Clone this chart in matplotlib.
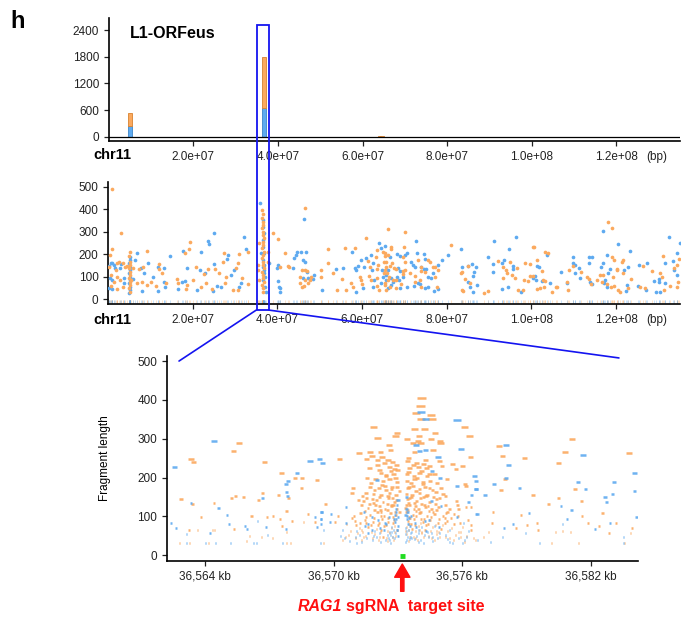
import matplotlib
matplotlib.use("Agg")
import matplotlib.pyplot as plt
from matplotlib.patches import Rectangle, ConnectionPatch
from matplotlib.ticker import FixedLocator, FixedFormatter

plt.rcParams['font.family'] = ['Liberation Sans', 'DejaVu Sans']

BLUE = '#5eaaf0'
ORANGE = '#fba95e'
BOX = '#1414f0'

# ---- panel 1: fragment counts per bin on chr11 (bin centre in bp)
bar_pos = [5.0e6, 36.7e6, 64.0e6, 64.6e6]
bar_blue = [250, 650, 8, 6]
bar_orange = [290, 1150, 12, 8]

# ---- panel 2: fragments along chr11, (position in Mb, fragment length)
mid_blue = [
    (0.63, 162), (0.95, 159), (0.24, 147), (1.4, 152), (1.6, 137), (2.8, 137), (3.0, 156), (0.47, 92),
    (0.79, 85), (3.8, 92), (3.8, 70), (0.24, 48), (0.79, 43), (5.05, 186), (5.1, 174), (5.0, 159),
    (5.05, 144), (5.1, 129), (5.0, 115), (5.05, 100), (5.1, 85), (5.0, 70), (5.05, 55), (5.1, 40),
    (5.0, 28), (5.8, 91), (6.4, 173), (6.9, 204), (7.7, 137), (8.5, 115), (8.0, 36), (9.3, 159),
    (10.5, 100), (11.7, 36), (11.8, 141), (13.1, 138), (13.3, 77), (13.4, 55), (14.5, 190), (16.6, 43),
    (17.4, 77), (18.1, 79), (17.6, 214), (18.6, 137), (21.1, 40), (21.9, 211), (21.8, 129), (22.9, 118),
    (23.5, 260), (23.9, 245), (24.9, 293), (24.7, 34), (25.1, 155), (25.7, 58), (26.7, 55), (28.1, 179),
    (28.2, 198), (28.9, 107), (29.8, 129), (30.9, 55), (31.4, 70), (32.2, 278), (32.5, 225),
    (35.9, 430), (36.0, 207), (36.5, 353), (36.6, 323), (36.7, 293), (36.6, 263), (36.5, 234), (36.7, 204),
    (36.5, 174), (36.8, 152), (36.6, 144), (36.9, 129), (36.7, 115), (37.0, 100), (36.6, 85), (37.1, 55),
    (37.2, 33), (38.1, 159), (40.1, 152), (39.8, 137), (40.1, 82), (40.3, 52), (40.6, 48), (40.5, 33),
    (43.6, 137), (43.8, 185), (44.7, 211), (45.6, 211), (46.8, 211), (44.4, 196), (46.0, 174), (46.4, 167),
    (46.0, 92), (47.2, 95), (48.4, 88), (48.6, 107), (47.0, 122), (46.2, 357), (50.5, 40), (53.9, 132),
    (55.5, 140), (57.7, 211), (58.2, 137), (58.6, 129), (59.1, 147), (58.5, 33), (59.8, 174), (60.4, 141),
    (60.8, 182), (60.2, 48), (62.0, 196), (62.6, 159), (62.4, 129), (62.9, 85), (62.6, 55), (64.0, 248),
    (64.5, 226), (64.7, 129), (64.9, 100), (64.4, 70),
    (65.33, 237), (66.51, 189), (66.12, 129), (65.72, 107), (66.75, 92), (65.57, 85), (66.91, 62), (66.12, 48),
    (67.3, 77), (68.33, 201), (68.88, 192), (70.06, 196), (70.7, 207), (68.49, 137), (68.88, 126), (68.33, 100),
    (68.72, 85), (69.75, 100), (70.62, 55), (68.88, 48), (71.48, 167), (72.04, 152), (72.43, 141), (73.06, 207),
    (74.01, 141), (74.64, 201), (74.8, 177), (74.64, 135), (75.19, 132), (75.59, 100), (76.22, 95), (76.77, 115),
    (77.95, 152), (78.9, 174), (80.32, 195), (73.22, 70), (72.27, 58), (73.61, 67), (74.96, 48), (75.59, 55),
    (77.01, 37), (77.95, 43), (72.8, 259), (83.3, 223), (91.2, 259), (96.3, 278),
    (83.48, 141), (85.06, 147), (86.0, 156), (86.48, 122), (86.79, 144), (86.24, 103), (85.06, 77), (87.03, 62),
    (85.45, 55), (86.24, 33), (89.63, 189), (90.97, 156), (90.97, 122), (92.95, 159), (93.58, 174), (94.52, 55),
    (92.95, 45), (95.71, 147), (95.71, 132), (94.76, 223), (97.52, 33), (100.44, 92),
    (116.9, 304), (132.4, 277), (135.0, 250), (120.4, 244), (123.3, 216), (103.6, 198), (134.4, 204), (117.8, 198),
    (109.7, 187), (113.5, 187), (114.2, 187), (109.7, 159), (110.3, 152), (113.5, 159), (116.9, 162), (116.4, 141),
    (118.6, 132), (133.4, 171), (131.6, 159), (125.3, 152), (127.3, 162), (122.9, 141), (121.9, 129),
    (100.83, 103), (101.39, 147), (101.78, 144), (100.99, 85), (102.41, 82), (104.38, 73), (106.91, 121),
    (108.33, 73), (110.3, 115), (111.33, 137), (111.49, 95), (113.85, 77), (114.25, 67), (118.19, 118),
    (117.4, 85), (117.17, 70), (117.95, 55), (122.53, 62), (122.37, 36), (125.06, 58), (127.11, 40), (129.0, 82),
    (130.03, 88), (129.47, 33), (130.42, 33), (130.03, 77), (131.6, 73), (133.73, 129), (134.37, 106),
]
mid_orange = [
    (0.87, 491), (3.0, 296), (0.79, 225), (0.47, 198), (0.1, 141), (2.6, 167), (2.2, 162), (3.4, 159),
    (3.9, 141), (4.4, 149), (1.8, 129), (0.63, 107), (2.05, 100), (1.4, 77), (2.8, 85), (3.4, 55),
    (0.63, 58), (2.2, 43), (5.05, 208), (5.0, 193), (5.1, 167), (5.05, 152), (5.0, 137), (5.1, 122),
    (5.05, 107), (5.0, 92), (5.1, 77), (5.05, 62), (5.0, 48), (5.1, 33), (5.5, 85), (5.8, 137),
    (6.7, 70), (7.3, 132), (8.3, 144), (8.1, 76), (9.1, 214), (9.2, 61), (10.1, 77), (11.3, 58),
    (12.1, 156), (12.1, 132), (12.6, 118), (13.7, 70), (16.3, 91), (16.6, 70), (18.1, 205), (19.0, 223),
    (19.3, 256), (18.4, 43), (18.6, 62), (20.0, 85), (20.8, 144), (21.9, 55), (22.7, 112), (23.5, 132),
    (23.0, 70), (24.5, 43), (25.3, 134), (26.3, 115), (27.3, 207), (27.1, 165), (27.9, 100), (27.6, 70),
    (29.4, 40), (30.2, 137), (30.6, 162), (30.6, 40), (30.9, 201), (31.6, 95), (33.0, 211), (33.1, 67),
    (36.3, 397), (36.5, 379), (36.4, 360), (36.6, 345), (36.5, 330), (36.4, 315), (36.6, 300), (36.5, 286),
    (36.7, 271), (36.5, 256), (36.6, 241), (36.4, 226), (36.7, 211), (36.5, 196), (36.3, 181), (36.6, 167),
    (36.5, 152), (36.7, 137), (36.4, 122), (36.6, 107), (36.5, 92), (36.8, 77), (36.4, 62), (36.6, 48),
    (36.5, 33), (35.7, 251), (35.5, 152), (35.3, 129), (35.7, 85), (37.7, 211), (37.87, 167), (38.9, 293),
    (40.1, 266), (40.7, 144), (41.8, 204), (42.6, 147), (42.8, 141), (45.8, 129), (46.4, 129), (46.9, 126),
    (45.4, 97), (46.5, 85), (45.2, 70), (45.8, 52), (46.2, 58), (47.2, 73), (47.6, 85), (48.0, 100),
    (46.6, 405), (50.3, 129), (50.2, 100), (51.9, 222), (51.9, 162), (53.1, 115), (54.1, 40), (55.3, 89),
    (55.9, 226), (56.3, 40), (57.4, 70), (57.8, 55), (58.4, 226), (59.4, 100), (59.7, 85), (60.0, 67),
    (60.8, 271), (61.4, 171), (61.8, 141), (61.6, 103), (62.0, 85), (63.2, 186), (63.4, 219), (63.8, 152),
    (63.6, 132), (63.4, 92), (63.6, 58), (63.9, 40), (64.9, 211), (65.3, 192), (65.2, 167), (65.7, 144),
    (65.2, 115), (66.0, 85), (65.3, 62), (66.1, 311),
    (66.75, 231), (66.91, 222), (65.33, 207), (66.12, 196), (65.72, 167), (66.51, 147), (67.07, 159), (67.54, 137),
    (65.33, 129), (65.96, 115), (66.28, 100), (67.3, 85), (65.33, 70), (66.51, 55), (65.72, 40), (69.9, 234),
    (69.67, 186), (70.06, 165), (68.09, 132), (69.67, 126), (70.22, 129), (69.67, 112), (67.93, 85), (69.28, 67),
    (68.09, 48), (71.25, 118), (72.43, 103), (73.22, 174), (74.01, 144), (73.85, 126), (74.8, 122), (75.59, 174),
    (75.98, 167), (76.77, 141), (77.17, 144), (77.95, 129), (77.17, 100), (77.8, 55), (73.61, 85), (72.43, 77),
    (74.01, 55), (70.1, 298), (81.1, 240), (100.4, 234),
    (83.32, 115), (83.63, 122), (84.27, 88), (84.9, 147), (85.45, 70), (83.48, 40), (83.87, 37), (88.84, 28),
    (89.63, 37), (92.16, 171), (93.34, 141), (93.89, 129), (94.92, 167), (94.13, 115), (95.31, 107), (93.34, 95),
    (96.1, 92), (96.5, 137), (98.47, 159), (99.65, 156), (98.31, 85), (99.26, 82), (96.89, 40), (98.07, 40),
    (100.44, 103),
    (118.0, 342), (119.1, 315), (100.6, 231), (103.2, 211), (104.0, 207), (131.1, 190), (119.0, 186), (119.4, 174),
    (101.4, 174), (109.9, 147), (121.3, 167), (121.7, 174), (120.3, 132), (126.32, 147), (128.45, 126),
    (133.58, 140), (134.37, 152), (134.76, 177), (102.41, 126), (99.65, 103), (102.81, 85), (103.2, 80),
    (101.23, 45), (102.02, 48), (102.96, 55), (104.78, 33), (105.8, 52), (106.12, 52), (108.33, 74),
    (108.96, 129), (108.57, 40), (111.72, 122), (113.06, 97), (113.69, 88), (114.09, 65), (115.43, 85),
    (116.22, 107), (116.61, 77), (116.85, 107), (117.95, 67), (119.22, 97), (119.53, 58), (118.74, 52),
    (120.32, 129), (120.56, 40), (120.95, 33), (121.74, 115), (122.77, 48), (123.56, 88), (125.69, 55),
    (126.87, 48), (130.26, 115), (130.82, 97), (131.37, 40), (132.63, 58), (134.6, 77), (134.37, 55),
]

# ---- panel 3: fragments around RAG1 target, (centre in kb, fragment length)
zoom_blue = [
    (36562.57, 228), (36564.42, 295), (36568.9, 242), (36569.35, 247), (36569.46, 237), (36568.3, 211),
    (36567.88, 191), (36567.78, 184), (36567.8, 162), (36567.85, 153), (36566.68, 148), (36563.35, 135),
    (36564.62, 121), (36565.04, 104), (36566.45, 88), (36569.12, 99), (36569.43, 111), (36569.43, 94),
    (36569.4, 81), (36569.21, 73), (36567.77, 67), (36562.42, 83), (36562.65, 70), (36563.12, 55),
    (36564.23, 57), (36565.12, 80), (36565.86, 76), (36565.95, 67), (36566.84, 72), (36566.92, 52),
    (36563.15, 32), (36564.03, 32), (36564.48, 32), (36565.18, 32), (36566.26, 32), (36566.39, 32),
    (36567.61, 32), (36568.47, 32), (36568.81, 32), (36569.4, 32),
    (36574.09, 369), (36574.28, 351), (36575.74, 349), (36573.85, 284), (36575.94, 273), (36574.0, 269),
    (36574.28, 271), (36574.87, 252), (36574.58, 218), (36576.57, 205), (36572.01, 193), (36574.95, 198),
    (36576.65, 191), (36575.74, 179), (36576.63, 170), (36576.43, 155), (36574.54, 140), (36575.0, 127),
    (36570.57, 124), (36571.42, 112), (36576.63, 107), (36569.43, 111), (36569.88, 106), (36571.78, 99),
    (36572.92, 92), (36574.43, 90), (36575.74, 99), (36569.41, 93), (36569.81, 86), (36570.56, 82),
    (36571.6, 80), (36572.45, 80), (36573.85, 73), (36574.7, 75), (36576.05, 82), (36569.53, 66),
    (36570.4, 66), (36571.05, 63), (36571.78, 64), (36572.59, 60), (36572.98, 64), (36573.64, 60),
    (36574.38, 60), (36575.4, 64), (36576.29, 63),
    (36572.95, 128), (36572.9, 112), (36573.0, 98), (36572.85, 86), (36573.0, 76), (36572.95, 66),
    (36572.9, 58), (36573.0, 50), (36572.85, 44), (36573.0, 38), (36572.95, 34), (36573.4, 120),
    (36573.35, 104), (36573.4, 92), (36573.45, 80), (36573.35, 70), (36573.4, 62), (36573.35, 54),
    (36573.45, 46), (36573.4, 40), (36573.35, 34), (36572.7, 60), (36572.75, 46), (36572.6, 38),
    (36572.5, 52), (36572.3, 42), (36572.2, 34), (36572.0, 48), (36571.8, 38), (36571.55, 44),
    (36571.3, 34), (36571.0, 46), (36570.75, 36), (36570.5, 44), (36573.6, 56), (36573.55, 42),
    (36573.7, 36), (36573.85, 50), (36574.05, 40), (36574.2, 32), (36574.4, 46), (36574.6, 36),
    (36574.85, 44), (36575.05, 34), (36575.3, 42), (36575.55, 32), (36575.8, 44), (36576.1, 38),
    (36576.4, 32), (36572.4, 84), (36572.15, 70), (36571.9, 62), (36573.8, 84), (36574.1, 72),
    (36574.3, 62), (36574.55, 56), (36572.6, 98), (36573.6, 100),
    (36572.9, 120), (36573.45, 112), (36572.85, 104), (36573.4, 100), (36572.8, 94), (36573.5, 96),
    (36572.7, 72), (36573.55, 76), (36572.8, 66), (36573.5, 66), (36572.65, 52), (36573.6, 48),
    (36572.55, 44), (36573.65, 44), (36572.4, 40), (36573.75, 42), (36572.15, 56), (36573.95, 58),
    (36571.85, 50), (36574.25, 52), (36571.6, 56), (36574.6, 48), (36571.2, 52), (36574.95, 56),
    (36570.9, 40), (36575.2, 52), (36570.3, 50), (36575.7, 38), (36576.2, 46), (36576.7, 40),
    (36572.35, 66), (36573.95, 66), (36572.05, 90), (36574.25, 88), (36571.45, 76), (36574.9, 72),
    (36573.0, 142), (36573.4, 150), (36570.2, 34), (36571.05, 32), (36572.65, 32), (36573.95, 34),
    (36575.4, 34), (36576.0, 32), (36577.3, 34),
    (36578.02, 283), (36578.15, 231), (36581.63, 258), (36578.02, 200), (36576.63, 170), (36577.46, 182),
    (36578.67, 174), (36577.05, 154), (36581.38, 189), (36581.74, 170), (36583.05, 189), (36584.02, 211),
    (36584.02, 166), (36583.0, 157), (36580.6, 127), (36582.65, 149), (36582.71, 137), (36576.71, 107),
    (36576.28, 137), (36579.12, 109), (36581.1, 116), (36584.12, 99), (36580.86, 92), (36582.9, 82),
    (36578.95, 56), (36580.67, 80), (36582.19, 67), (36583.53, 46), (36578.37, 79), (36577.95, 69),
    (36577.87, 47), (36578.45, 32), (36578.73, 32), (36579.61, 32), (36582.05, 32), (36583.52, 32),
]
zoom_orange = [
    (36563.35, 247), (36563.46, 240), (36565.6, 290), (36565.33, 269), (36566.79, 239), (36567.57, 211),
    (36568.19, 200), (36568.53, 199), (36568.5, 173), (36569.24, 193), (36567.9, 147), (36567.44, 155),
    (36566.68, 159), (36566.48, 142), (36565.78, 151), (36565.42, 152), (36565.24, 147), (36564.42, 134),
    (36563.41, 131), (36562.88, 145), (36563.81, 99), (36566.17, 100), (36566.88, 99), (36567.16, 100),
    (36567.49, 94), (36567.81, 113), (36568.05, 88), (36568.59, 86), (36568.81, 107), (36569.12, 86),
    (36567.6, 75), (36567.8, 59), (36563.26, 64), (36563.66, 64), (36564.34, 64), (36564.43, 64),
    (36565.35, 68), (36566.64, 46), (36566.06, 50), (36567.15, 45), (36565.94, 37),
    (36562.8, 32), (36563.27, 32), (36564.15, 32), (36565.86, 32), (36566.14, 32), (36567.81, 32),
    (36568.0, 32), (36568.99, 32), (36569.52, 32),
    (36574.1, 404), (36574.05, 385), (36573.85, 367), (36574.54, 361), (36574.58, 350), (36574.08, 351),
    (36576.12, 331), (36571.86, 331), (36573.77, 324), (36574.23, 326), (36574.73, 314), (36572.95, 314),
    (36572.88, 306), (36572.04, 303), (36573.98, 306), (36576.33, 307), (36573.41, 298), (36574.54, 300),
    (36574.95, 295), (36574.98, 289), (36573.92, 293), (36573.69, 289), (36574.05, 289), (36572.6, 284),
    (36572.65, 271), (36574.62, 271), (36571.19, 263), (36571.71, 266), (36572.19, 265), (36573.77, 265),
    (36571.79, 255), (36572.26, 252), (36576.37, 253), (36570.26, 248), (36571.52, 248), (36573.5, 249),
    (36574.28, 245), (36574.93, 243), (36572.53, 244), (36572.76, 240), (36573.85, 238), (36575.54, 235),
    (36572.06, 233), (36572.95, 232), (36575.05, 230), (36576.01, 230), (36571.67, 225), (36573.53, 225),
    (36574.34, 225), (36575.7, 221), (36572.14, 219), (36572.68, 217), (36572.99, 219), (36574.0, 212),
    (36574.47, 209), (36573.41, 208), (36571.56, 200), (36572.45, 204), (36572.88, 198), (36575.3, 197),
    (36573.77, 196), (36574.15, 189), (36571.75, 185), (36572.26, 180), (36576.17, 179), (36572.73, 176),
    (36573.5, 176), (36574.47, 174), (36570.9, 174), (36571.91, 168), (36572.45, 168), (36573.07, 166),
    (36573.85, 166), (36574.78, 163), (36570.86, 161), (36571.33, 153), (36575.21, 152), (36572.53, 152),
    (36573.62, 150), (36574.2, 150), (36571.16, 142), (36572.01, 142), (36572.92, 142), (36573.85, 140),
    (36575.74, 140), (36569.61, 131), (36571.67, 131), (36572.68, 129), (36573.41, 129), (36574.28, 124),
    (36576.17, 123), (36572.19, 116), (36573.07, 112), (36573.85, 114), (36574.62, 112), (36575.24, 109),
    (36570.19, 101), (36570.86, 96), (36572.53, 95), (36573.53, 99), (36574.08, 94), (36574.93, 92),
    (36575.47, 95), (36576.25, 90), (36570.05, 86), (36571.21, 83), (36572.06, 77), (36572.84, 75),
    (36573.62, 80), (36574.31, 77), (36575.08, 77), (36576.4, 77), (36571.36, 60), (36572.17, 60),
    (36573.36, 62), (36574.0, 64), (36574.78, 63), (36575.83, 60),
    (36572.05, 245), (36572.35, 238), (36572.6, 228), (36572.85, 222), (36573.45, 242), (36573.7, 232),
    (36573.95, 228), (36574.2, 236), (36574.45, 230), (36572.2, 212), (36572.45, 206), (36572.8, 210),
    (36573.5, 214), (36573.75, 205), (36574.1, 218), (36574.35, 203), (36574.7, 210), (36571.95, 196),
    (36572.3, 190), (36572.6, 195), (36572.95, 188), (36573.4, 192), (36573.6, 186), (36573.9, 198),
    (36574.15, 182), (36574.5, 192), (36574.8, 186), (36571.7, 176), (36572.1, 172), (36572.4, 178),
    (36572.7, 170), (36572.95, 175), (36573.45, 172), (36573.7, 178), (36574.0, 170), (36574.25, 176),
    (36574.6, 168), (36575.0, 172), (36571.5, 160), (36571.85, 158), (36572.2, 156), (36572.6, 160),
    (36572.9, 154), (36573.4, 158), (36573.65, 155), (36574.0, 160), (36574.35, 156), (36574.65, 150),
    (36575.1, 158), (36571.4, 140), (36571.8, 145), (36572.3, 138), (36572.55, 146), (36572.85, 136),
    (36573.45, 144), (36573.75, 135), (36574.05, 146), (36574.45, 138), (36574.8, 144), (36571.6, 122),
    (36571.95, 128), (36572.4, 120), (36572.7, 126), (36572.95, 118), (36573.35, 122), (36573.55, 128),
    (36573.95, 120), (36574.25, 128), (36574.55, 118), (36574.9, 124), (36575.4, 120), (36571.25, 108),
    (36571.7, 104), (36572.05, 110), (36572.35, 102), (36572.65, 108), (36572.9, 104), (36573.4, 110),
    (36573.7, 104), (36574.0, 108), (36574.35, 100), (36574.7, 106), (36575.1, 102), (36575.6, 106),
    (36571.0, 88), (36571.45, 90), (36571.85, 86), (36572.25, 92), (36572.55, 86), (36572.8, 90),
    (36573.45, 88), (36573.75, 92), (36574.15, 86), (36574.5, 90), (36574.85, 84), (36575.3, 88),
    (36575.9, 84), (36571.2, 70), (36571.6, 72), (36572.0, 68), (36572.35, 74), (36572.7, 70),
    (36572.95, 66), (36573.4, 72), (36573.65, 68), (36573.95, 74), (36574.25, 66), (36574.6, 72),
    (36575.0, 68), (36575.5, 70), (36576.0, 72), (36570.7, 52), (36571.1, 56), (36571.5, 50),
    (36571.9, 54), (36572.3, 48), (36572.6, 56), (36572.9, 50), (36573.4, 54), (36573.7, 48),
    (36574.1, 56), (36574.4, 50), (36574.8, 54), (36575.2, 48), (36575.7, 52), (36576.2, 50),
    (36570.4, 38), (36570.9, 36), (36571.3, 40), (36571.7, 34), (36572.1, 38), (36572.5, 36),
    (36572.8, 40), (36573.5, 36), (36573.9, 40), (36574.3, 34), (36574.7, 38), (36575.1, 36),
    (36575.6, 40), (36576.1, 34), (36576.6, 38),
    (36571.55, 146), (36572.15, 150), (36572.75, 148), (36573.55, 146), (36574.3, 152), (36574.95, 148),
    (36571.3, 130), (36571.85, 134), (36572.15, 126), (36572.5, 132), (36572.8, 128), (36573.5, 134),
    (36573.8, 126), (36574.1, 132), (36574.4, 126), (36574.75, 132), (36575.2, 130), (36571.45, 114),
    (36571.9, 116), (36572.2, 112), (36572.5, 116), (36572.85, 112), (36573.45, 116), (36573.75, 118),
    (36574.05, 112), (36574.45, 114), (36574.8, 116), (36575.3, 112), (36570.95, 100), (36571.5, 98),
    (36571.9, 96), (36572.2, 100), (36572.75, 98), (36573.55, 96), (36573.85, 100), (36574.2, 94),
    (36574.55, 98), (36575.2, 96), (36575.8, 100), (36570.6, 80), (36571.05, 78), (36571.5, 82),
    (36571.75, 78), (36572.1, 84), (36572.45, 78), (36572.75, 82), (36573.5, 80), (36573.8, 78),
    (36574.05, 82), (36574.4, 80), (36574.75, 78), (36575.2, 82), (36575.6, 80), (36570.8, 62),
    (36571.3, 64), (36571.75, 60), (36572.2, 64), (36572.5, 62), (36572.85, 60), (36573.5, 64),
    (36573.8, 62), (36574.1, 60), (36574.5, 62), (36574.9, 60), (36575.3, 62), (36575.9, 60),
    (36576.4, 64), (36570.55, 46), (36571.0, 44), (36571.4, 46), (36571.8, 44), (36572.15, 46),
    (36572.45, 44), (36572.75, 46), (36573.55, 46), (36573.8, 44), (36574.2, 46), (36574.55, 44),
    (36574.95, 46), (36575.4, 44), (36575.9, 46), (36576.5, 44),
    (36577.69, 281), (36577.87, 255), (36578.9, 250), (36581.1, 300), (36580.79, 265), (36580.5, 237),
    (36583.77, 264), (36576.14, 183), (36577.99, 197), (36579.3, 155), (36577.8, 167), (36581.26, 171),
    (36580.49, 147), (36581.54, 140), (36580.02, 133), (36577.44, 111), (36575.79, 129), (36575.83, 120),
    (36576.4, 124), (36578.74, 103), (36579.47, 84), (36582.53, 109), (36581.56, 101), (36581.86, 83),
    (36582.37, 76), (36583.18, 82), (36579.02, 78), (36579.53, 66), (36580.35, 60), (36580.67, 63),
    (36581.05, 60), (36582.84, 56), (36583.83, 57), (36583.92, 69), (36578.5, 69), (36577.37, 83),
    (36577.22, 60), (36577.0, 47), (36580.15, 32), (36581.43, 32), (36583.57, 32),
]

target_kb = 36573.2
zoom_ticks = [36564, 36570, 36576, 36582]

fig = plt.figure(figsize=(6.89, 6.20), dpi=100)
ax1 = fig.add_axes([0.158, 0.7726, 0.829, 0.1984])
ax2 = fig.add_axes([0.157, 0.5097, 0.830, 0.1968])
ax3 = fig.add_axes([0.2424, 0.0952, 0.6836, 0.3306])

for ax in (ax1, ax2, ax3):
    for s in ('top', 'right'):
        ax.spines[s].set_visible(False)
    for s in ('left', 'bottom'):
        ax.spines[s].set_linewidth(1.2)
    ax.tick_params(labelsize=8.5, length=3.5, width=0.9, colors='#222222')

chr_len = 135.1e6
xt = [2e7, 4e7, 6e7, 8e7, 1e8, 1.2e8]
xt_labels = ['2.0e+07', '4.0e+07', '6.0e+07', '8.0e+07', '1.0e+08', '1.2e+08']

# panel 1 - stacked bars
ax1.bar(bar_pos, bar_blue, width=9e5, color=BLUE, edgecolor='#3d86c8', linewidth=0.6)
ax1.bar(bar_pos, bar_orange, width=9e5, bottom=bar_blue, color=ORANGE,
        edgecolor='#d9822f', linewidth=0.6)
ax1.axhline(0, color='black', lw=0.9)
ax1.set_xlim(0, chr_len)
ax1.set_ylim(-90, 2670)
ax1.set_yticks([0, 600, 1200, 1800, 2400])
ax1.set_xticks(xt)
ax1.set_xticklabels(xt_labels)

# panel 2 - fragment scatter + rug
mb_x = [p * 1e6 for p, _ in mid_blue]
mb_y = [l for _, l in mid_blue]
mo_x = [p * 1e6 for p, _ in mid_orange]
mo_y = [l for _, l in mid_orange]
ax2.vlines(mo_x, -19, -5, colors=ORANGE, lw=0.5, alpha=0.45)
ax2.vlines(mb_x, -19, -5, colors=BLUE, lw=0.5, alpha=0.45)
ax2.scatter(mb_x, mb_y, s=7, color=BLUE, linewidths=0, zorder=3)
ax2.scatter(mo_x, mo_y, s=7, color=ORANGE, linewidths=0, zorder=3)
ax2.set_xlim(0, chr_len)
ax2.set_ylim(-22, 522)
ax2.set_yticks([0, 100, 200, 300, 400, 500])
ax2.set_xticks(xt)
ax2.set_xticklabels(xt_labels)

for ax in (ax1, ax2):
    ax.annotate('(bp)', xy=(1.272e8, 0), xycoords=('data', 'axes fraction'),
                xytext=(0, -7.2), textcoords='offset points', ha='left', va='top',
                fontsize=8.5, color='#222222')
fig.text(93 / 689, 1 - 155 / 620, 'chr11', fontsize=10.5, fontweight='bold', va='center')
fig.text(93 / 689, 1 - 320 / 620, 'chr11', fontsize=10.5, fontweight='bold', va='center')

# panel 3 - each fragment drawn as a segment spanning its length
for frags, col in ((zoom_orange, ORANGE), (zoom_blue, BLUE)):
    xs = [c for c, _ in frags]
    ls = [l for _, l in frags]
    ax3.hlines(ls, [c - l / 2000 for c, l in zip(xs, ls)], [c + l / 2000 for c, l in zip(xs, ls)],
               colors=col, lw=1.8, alpha=0.9)
ax3.hlines(-3, target_kb - 0.12, target_kb + 0.12, colors='#22dd22', lw=3.5)
ax3.set_xlim(36562.23, 36584.19)
ax3.set_ylim(-15, 513)
ax3.set_yticks([0, 100, 200, 300, 400, 500])
ax3.xaxis.set_major_locator(FixedLocator(zoom_ticks))
ax3.xaxis.set_major_formatter(FixedFormatter([f'{t:,} kb' for t in zoom_ticks]))
ax3.set_ylabel('Fragment length', fontsize=8.5)
ax3.yaxis.set_label_coords(-0.118, 0.5)

# red arrow + label under the target site
ax3.annotate('', xy=(target_kb, -0.015), xycoords=('data', 'axes fraction'),
             xytext=(target_kb, -0.148), textcoords=('data', 'axes fraction'),
             arrowprops=dict(facecolor='#ff1010', edgecolor='#ff1010', width=2.4,
                             headwidth=11, headlength=9.5))
fig.text(342 / 689, 1 - 611 / 620, 'RAG1', color='#ff1010', fontsize=11.5,
         fontweight='bold', fontstyle='italic', va='baseline', ha='right')
fig.text(346 / 689, 1 - 611 / 620, 'sgRNA  target site', color='#ff1010', fontsize=11.5,
         fontweight='bold', va='baseline')

# zoom box from the overview down to panel 3
inv = fig.transFigure.inverted()
bx0 = 3.50e7
bx1 = 3.79e7
(fx0, fy_top) = inv.transform(ax1.transData.transform((bx0, 2517)))
(fx1, _) = inv.transform(ax1.transData.transform((bx1, 2517)))
(_, fy_bot) = inv.transform(ax2.transData.transform((bx0, -49)))
fig.add_artist(Rectangle((fx0, fy_bot), fx1 - fx0, fy_top - fy_bot, transform=fig.transFigure,
                         fill=False, edgecolor=BOX, lw=1.3))
for bx, zx, zy in ((bx0, 36562.79, 500), (bx1, 36583.3, 508)):
    fig.add_artist(ConnectionPatch(xyA=(bx, -49), coordsA=ax2.transData,
                                   xyB=(zx, zy), coordsB=ax3.transData, color=BOX, lw=1.2))

fig.text(10 / 689, 1 - 21 / 620, 'h', fontsize=17, fontweight='bold', va='center')
fig.text(130 / 689, 1 - 33 / 620, 'L1-ORFeus', fontsize=11.5, fontweight='bold', va='center')

fig.savefig('out.png', dpi=100)
